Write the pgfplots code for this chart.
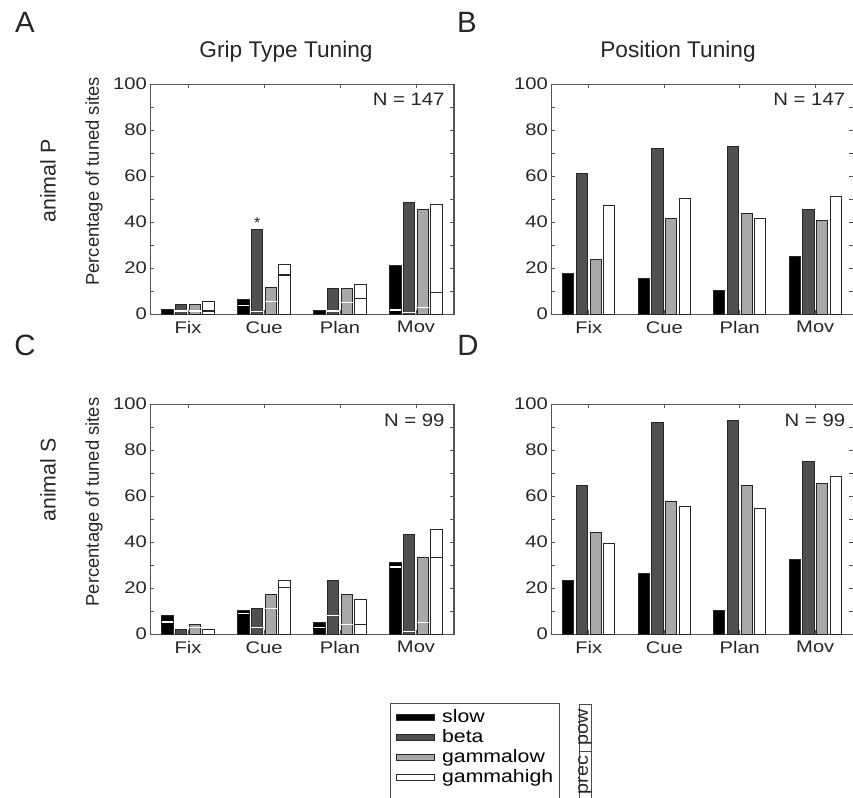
\documentclass[border=0pt]{standalone}
\usepackage{fontspec}
\setmainfont{Liberation Sans}
\usepackage{pgfplots}
\usepackage{pgfplotstable}
\pgfplotsset{compat=1.18}
\definecolor{axisgray}{HTML}{555555}
\definecolor{betac}{HTML}{505050}
\definecolor{glowc}{HTML}{A8A8A8}
\newcommand{\widetxt}[1]{\scalebox{1.18}[1]{#1}}

\pgfplotstableread{
x slow slowp beta betap glow glowp ghigh ghighp
1 2.0  nan  4.2  1.3  4.2  1.3  5.5  1.3
2 6.2  3.8  36.8 1.0  11.5 5.4  21.6 16.9
3 1.5  nan  10.9 1.3  11.0 4.9  12.9 6.7
4 21.1 1.8  48.3 0.8  45.4 2.7  47.5 9.4
}\dataA
\pgfplotstableread{
x slow beta glow ghigh
1 17.7 61.2 23.8 47.0
2 15.5 72.0 41.4 50.3
3 10.1 72.8 43.5 41.4
4 24.9 45.4 40.6 51.0
}\dataB
\pgfplotstableread{
x slow slowp beta betap glow glowp ghigh ghighp
1 8.1  5.2  2.0  nan  4.0  2.9  2.0  nan
2 10.1 9.0  11.2 2.9  17.2 11.0 23.2 20.1
3 5.2  2.9  23.2 8.1  17.2 4.0  15.2 4.0
4 31.3 29.2 43.3 1.0  33.3 5.0  45.4 33.3
}\dataC
\pgfplotstableread{
x slow beta glow ghigh
1 23.2 64.5 44.3 39.3
2 26.2 91.9 57.5 55.5
3 10.1 92.9 64.5 54.5
4 32.3 74.8 65.5 68.6
}\dataD

\pgfplotsset{
  panel/.style={
    scale only axis, height=172.5pt,
    xmin=0.5, xmax=4.5, ymin=0, ymax=100,
    xtick={1,2,3,4}, xticklabels={Fix,Cue,Plan,Mov},
    ytick={0,10,...,100}, yticklabels={0,,20,,40,,60,,80,,100},
    tick align=inside, major tick length=3pt, tick pos=both,
    xticklabel pos=bottom, yticklabel pos=left,
    tick style={color=axisgray, line width=0.75pt},
    axis line style={axisgray, line width=0.75pt},
    /pgf/number format/assume math mode=true,
    tick label style={font=\fontsize{12.6}{14}\selectfont, text=black!85, xscale=1.2},
    xticklabel style={yshift=-2pt},
    yticklabel style={xshift=1.5pt},
  },
  barS/.style={ybar, bar width=8.4pt, bar shift=#1, draw=black!85, line width=0.75pt},
  precS/.style={only marks, mark=-, mark size=4.3pt, forget plot, mark options={xshift=#1, line width=1pt}},
}

\begin{document}
\begin{tikzpicture}
\path[use as bounding box] (0pt,0pt) rectangle (639.75pt,-597.75pt);

% Panel A
\begin{axis}[panel, width=228pt, at={(112.5pt,-235.5pt)}, anchor=south west]
\addplot[barS=-15.41pt, fill=black] table[x=x,y=slow] {\dataA};
\addplot[barS=-5.14pt, fill=betac] table[x=x,y=beta] {\dataA};
\addplot[barS=5.14pt, fill=glowc] table[x=x,y=glow] {\dataA};
\addplot[barS=15.41pt, fill=white] table[x=x,y=ghigh] {\dataA};
\addplot[precS=-15.41pt, white] table[x=x,y=slowp] {\dataA};
\addplot[precS=-5.14pt, white] table[x=x,y=betap] {\dataA};
\addplot[precS=5.14pt, white] table[x=x,y=glowp] {\dataA};
\addplot[precS=15.41pt, black!85] table[x=x,y=ghighp] {\dataA};
\node[anchor=north east, inner sep=0pt, font=\fontsize{13.5}{15}\selectfont, text=black!85, xscale=1.13] at (rel axis cs:0.97,0.96) {N = 147};
\node[inner sep=0pt, font=\fontsize{12}{14}\selectfont, text=black!85] at (axis cs:2,36.8) [xshift=-5.14pt, yshift=4.5pt] {*};
\end{axis}

% Panel B
\begin{axis}[panel, width=226.5pt, at={(413.25pt,-235.5pt)}, anchor=south west]
\addplot[barS=-15.41pt, fill=black] table[x=x,y=slow] {\dataB};
\addplot[barS=-5.14pt, fill=betac] table[x=x,y=beta] {\dataB};
\addplot[barS=5.14pt, fill=glowc] table[x=x,y=glow] {\dataB};
\addplot[barS=15.41pt, fill=white] table[x=x,y=ghigh] {\dataB};
\node[anchor=north east, inner sep=0pt, font=\fontsize{13.5}{15}\selectfont, text=black!85, xscale=1.13] at (rel axis cs:0.975,0.96) {N = 147};
\end{axis}

% Panel C
\begin{axis}[panel, width=228pt, at={(112.5pt,-475.5pt)}, anchor=south west,
  legend style={at={(0.7895,-0.30)}, anchor=north west, draw=black!70, line width=0.75pt,
    font=\fontsize{13.5}{15}\selectfont, inner xsep=4pt, inner ysep=3pt, row sep=0pt,
    nodes={inner sep=1pt, text height=10pt, text depth=3pt}},
  legend cell align=left,
  legend image code/.code={\draw[#1, line width=0.75pt] (0pt,-2.2pt) rectangle (28.5pt,2.2pt); \path (33pt,0pt);}]
\addplot[barS=-15.41pt, fill=black] table[x=x,y=slow] {\dataC};
\addplot[barS=-5.14pt, fill=betac] table[x=x,y=beta] {\dataC};
\addplot[barS=5.14pt, fill=glowc] table[x=x,y=glow] {\dataC};
\addplot[barS=15.41pt, fill=white] table[x=x,y=ghigh] {\dataC};
\addplot[precS=-15.41pt, white] table[x=x,y=slowp] {\dataC};
\addplot[precS=-5.14pt, white] table[x=x,y=betap] {\dataC};
\addplot[precS=5.14pt, white] table[x=x,y=glowp] {\dataC};
\addplot[precS=15.41pt, black!85] table[x=x,y=ghighp] {\dataC};
\addlegendimage{empty legend}
\legend{\widetxt{slow},\widetxt{beta},\widetxt{gammalow},\widetxt{gammahigh},\phantom{x}}
\node[anchor=north east, inner sep=0pt, font=\fontsize{13.5}{15}\selectfont, text=black!85, xscale=1.13] at (rel axis cs:0.97,0.96) {N = 99};
\end{axis}

% Panel D
\begin{axis}[panel, width=226.5pt, at={(413.25pt,-475.5pt)}, anchor=south west]
\addplot[barS=-15.41pt, fill=black] table[x=x,y=slow] {\dataD};
\addplot[barS=-5.14pt, fill=betac] table[x=x,y=beta] {\dataD};
\addplot[barS=5.14pt, fill=glowc] table[x=x,y=glow] {\dataD};
\addplot[barS=15.41pt, fill=white] table[x=x,y=ghigh] {\dataD};
\node[anchor=north east, inner sep=0pt, font=\fontsize{13.5}{15}\selectfont, text=black!85, xscale=1.13] at (rel axis cs:0.975,0.96) {N = 99};
\end{axis}

% Titles and labels
\begin{scope}[every node/.style={text=black!85, inner sep=0pt}]
\node[font=\fontsize{22}{24}\selectfont] at (18.75pt,-16.5pt) {A};
\node[font=\fontsize{22}{24}\selectfont] at (350.25pt,-16.5pt) {B};
\node[font=\fontsize{22}{24}\selectfont] at (18.75pt,-258.75pt) {C};
\node[font=\fontsize{22}{24}\selectfont] at (351pt,-258.75pt) {D};
\node[font=\fontsize{17}{19}\selectfont] at (214.5pt,-38.5pt) {Grip Type Tuning};
\node[font=\fontsize{17}{19}\selectfont] at (508.5pt,-38.5pt) {Position Tuning};
\node[font=\fontsize{16}{18}\selectfont, rotate=90] at (36pt,-135.75pt) {animal P};
\node[font=\fontsize{16}{18}\selectfont, rotate=90] at (36pt,-360pt) {animal S};
\node[font=\fontsize{13.8}{15}\selectfont, rotate=90] at (70.5pt,-136.1pt) {Percentage of tuned sites};
\node[font=\fontsize{13.8}{15}\selectfont, rotate=90] at (70.5pt,-376.5pt) {Percentage of tuned sites};
% prec / pow box
\draw[black!70, line width=0.75pt] (434.25pt,-600pt) -- (434.25pt,-528pt) -- (443.25pt,-528pt) -- (443.25pt,-600pt);
\draw[black!70, line width=0.75pt] (434.25pt,-563.25pt) -- (443.25pt,-563.25pt);
\node[font=\fontsize{13.5}{15}\selectfont, rotate=90, xscale=1.1] at (438.75pt,-545.25pt) {pow};
\node[font=\fontsize{13.5}{15}\selectfont, rotate=90, xscale=1.1] at (438.75pt,-581.25pt) {prec};
\end{scope}
\end{tikzpicture}
\end{document}
